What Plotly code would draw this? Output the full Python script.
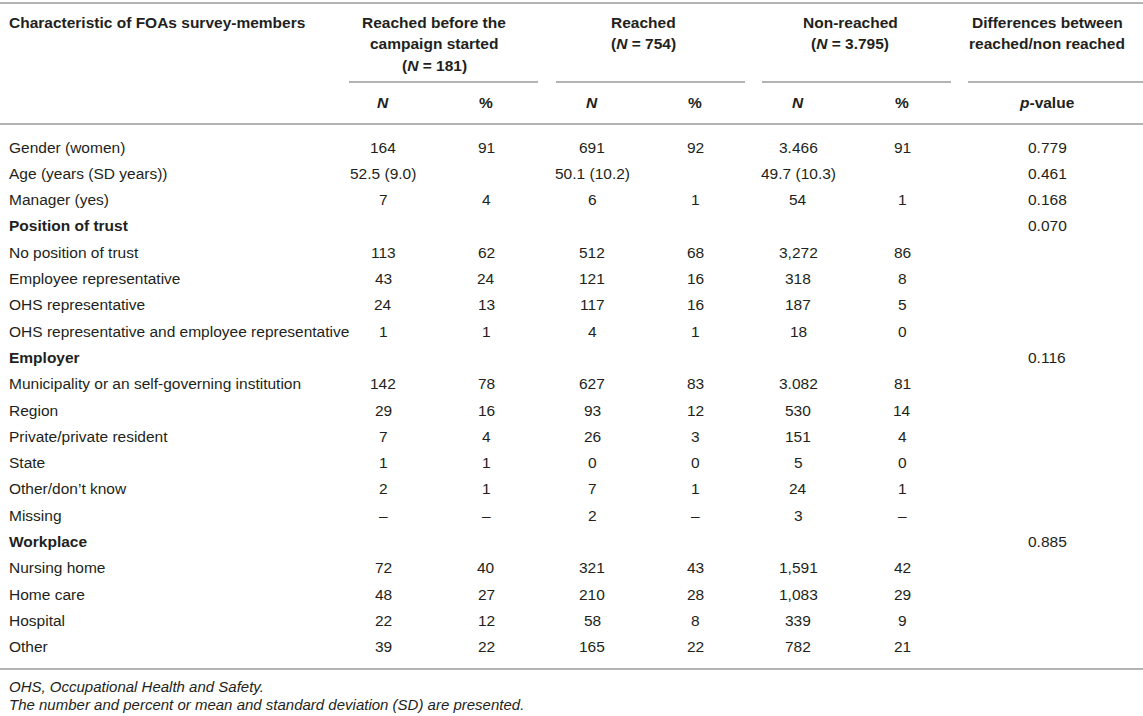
import plotly.graph_objects as go

# lignes du tableau
labels = ["Gender (women)", "Age (years (SD years))", "Manager (yes)", "Position of trust",
          "No position of trust", "Employee representative", "OHS representative",
          "OHS representative and employee representative", "Employer",
          "Municipality or an self-governing institution", "Region", "Private/private resident",
          "State", "Other/don\u2019t know", "Missing", "Workplace", "Nursing home", "Home care",
          "Hospital", "Other"]
bold_rows = ["Position of trust", "Employer", "Workplace"]

before_n = ["164", "52.5 (9.0)", "7", "", "113", "43", "24", "1", "", "142", "29", "7", "1", "2", "\u2013", "", "72", "48", "22", "39"]
before_pct = ["91", "", "4", "", "62", "24", "13", "1", "", "78", "16", "4", "1", "1", "\u2013", "", "40", "27", "12", "22"]
reached_n = ["691", "50.1 (10.2)", "6", "", "512", "121", "117", "4", "", "627", "93", "26", "0", "7", "2", "", "321", "210", "58", "165"]
reached_pct = ["92", "", "1", "", "68", "16", "16", "1", "", "83", "12", "3", "0", "1", "\u2013", "", "43", "28", "8", "22"]
non_n = ["3.466", "49.7 (10.3)", "54", "", "3,272", "318", "187", "18", "", "3.082", "530", "151", "5", "24", "3", "", "1,591", "1,083", "339", "782"]
non_pct = ["91", "", "1", "", "86", "8", "5", "0", "", "81", "14", "4", "0", "1", "\u2013", "", "42", "29", "9", "21"]
p_values = ["0.779", "0.461", "0.168", "0.070", "", "", "", "", "0.116", "", "", "", "", "", "", "0.885", "", "", "", ""]

group_titles = [["Reached before the", "campaign started", "(<i>N</i> = 181)"],
                [ "Reached", "(<i>N</i> = 754)"],
                ["Non-reached", "(<i>N</i> = 3.795)"],
                ["Differences between", "reached/non reached"]]
sub_titles = ["<i>N</i>", "%", "<i>N</i>", "%", "<i>N</i>", "%", "<i>p</i>-value"]
notes = ["OHS, Occupational Health and Safety.",
         "The number and percent or mean and standard deviation (SD) are presented."]

W, H = 1143, 716
police = "Liberation Sans, Arial, sans-serif"
couleur = "#231f20"
gris = "#b3b3b3"

col_x = [383, 486, 592, 695, 798, 902, 1047]
group_x = [434, 643, 850, 1047]
segments = [(349, 538), (556, 745), (762, 951), (968, 1143)]
y0, pas = 147, 26.3

fig = go.Figure()
annots = []

def texte(x, y, t, anchor="center", size=15.5, italic=False):
    annots.append(dict(x=x, y=y, xref="x", yref="y", text=t, showarrow=False,
                       xanchor=anchor, yanchor="middle",
                       font=dict(family=police, size=size, color=couleur,
                                 style="italic" if italic else "normal")))

# en-tete
texte(7, 22, "<b>Characteristic of FOAs survey-members</b>", anchor="left")
for gx, lignes in zip(group_x, group_titles):
    for k, l in enumerate(lignes):
        texte(gx, 22 + k * 21.5, "<b>" + l + "</b>")
for cx, s in zip(col_x, sub_titles):
    texte(cx, 102, "<b>" + s + "</b>")

# corps
colonnes = [before_n, before_pct, reached_n, reached_pct, non_n, non_pct, p_values]
for i, lab in enumerate(labels):
    y = y0 + i * pas
    texte(7, y, "<b>" + lab + "</b>" if lab in bold_rows else lab, anchor="left")
    for cx, col in zip(col_x, colonnes):
        if col[i]:
            texte(cx, y, col[i])

for k, n in enumerate(notes):
    texte(7, 686 + k * 18.5, n, anchor="left", size=15, italic=True)

shapes = []
for ya in [3, 124, 669]:
    shapes.append(dict(type="line", x0=0, x1=W, y0=ya, y1=ya, xref="x", yref="y",
                       line=dict(color=gris, width=2)))
for a, b in segments:
    shapes.append(dict(type="line", x0=a, x1=b, y0=82, y1=82, xref="x", yref="y",
                       line=dict(color=gris, width=2)))

fig.update_layout(width=W, height=H, autosize=False,
                  margin=dict(l=0, r=0, t=0, b=0),
                  paper_bgcolor="white", plot_bgcolor="white",
                  annotations=annots, shapes=shapes, showlegend=False)
fig.update_xaxes(range=[0, W], visible=False, fixedrange=True)
fig.update_yaxes(range=[H, 0], visible=False, fixedrange=True)

fig.write_html("out.html", config={"displayModeBar": False},
               post_script="document.body.style.margin='0';")
